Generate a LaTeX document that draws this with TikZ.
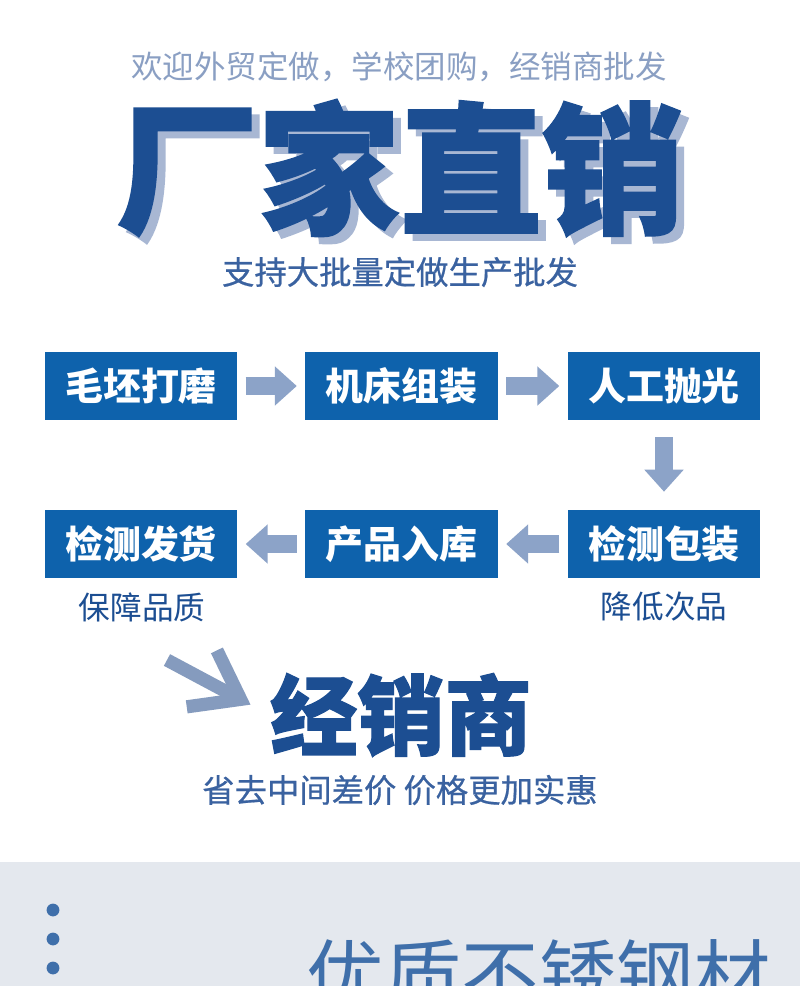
\documentclass[tikz,border=0pt]{standalone}
\usepackage{fontspec}
\setmainfont{Noto Sans CJK SC}
\newfontfamily\heavyfont{Noto Sans CJK SC}[BoldFeatures={FakeBold=1.4}]
\newfontfamily\midfont{Noto Sans CJK SC}[FakeBold=0.6]
\usetikzlibrary{arrows.meta}
\definecolor{titleblue}{HTML}{1C4E92}
\definecolor{shadowblue}{HTML}{A8B7D3}
\definecolor{paleblue}{HTML}{8A9FC3}
\definecolor{textblue}{HTML}{3A62A0}
\definecolor{boxblue}{HTML}{0E62AC}
\definecolor{arrowblue}{HTML}{8CA3C8}
\definecolor{bandgray}{HTML}{E4E8EE}
\definecolor{dotblue}{HTML}{3F6FAA}
\tikzset{
	txt/.style={inner sep=0pt},
	stepbox/.style={txt,fill=boxblue,text=white,minimum width=4.8cm,minimum height=1.7cm,
		font=\bfseries\fontsize{27}{30}\selectfont},
	flow/.style={draw=arrowblue,line width=0.45cm,-{Triangle[length=0.55cm,width=0.95cm]}}
}
\begin{document}
\begin{tikzpicture}[x=0.025cm,y=-0.025cm]
		\clip (0,0) rectangle (800,986);
		\fill[white] (0,0) rectangle (800,862);
		\fill[bandgray] (0,862) rectangle (800,986);
		\begin{scope}[every node/.style={txt}]
			\node[text=paleblue,font=\fontsize{22.4}{24}\selectfont] (welcome) at (399,67) {欢迎外贸定做，学校团购，经销商批发};
			\node[text=shadowblue,font=\heavyfont\bfseries\fontsize{101}{110}\selectfont] (titleshadow) at (408,175) {厂家直销};
			\node[text=titleblue,font=\heavyfont\bfseries\fontsize{101}{110}\selectfont] (title) at (400,168) {厂家直销};
			\node[text=textblue,font=\midfont\fontsize{23}{25}\selectfont] (support) at (400,272) {支持大批量定做生产批发};
			\node[text=titleblue,font=\fontsize{22.5}{24}\selectfont] (quality) at (142,607) {保障品质};
			\node[text=titleblue,font=\fontsize{22.5}{24}\selectfont] (defects) at (664,607) {降低次品};
			\node[text=titleblue,font=\heavyfont\bfseries\fontsize{62}{66}\selectfont] (dealer) at (401,715) {经销商};
			\node[text=textblue,font=\midfont\fontsize{23}{25}\selectfont] (saving) at (400,790) {省去中间差价 价格更加实惠};
			\node[text=dotblue,font=\fontsize{55}{60}\selectfont] (steel) at (539,975) {优质不锈钢材};
		\end{scope}
		\node[stepbox] (grind) at (141,386) {毛坯打磨};
		\node[stepbox] (machine) at (401.5,386) {机床组装};
		\node[stepbox] (polish) at (664,386) {人工抛光};
		\node[stepbox] (ship) at (141,544) {检测发货};
		\node[stepbox] (store) at (401.5,544) {产品入库};
		\node[stepbox] (pack) at (664,544) {检测包装};
		\begin{scope}[every edge/.style={flow,shorten <=0.21cm,shorten >=0.21cm}]
			\path (grind) edge (machine);
			\path (machine) edge (polish);
			\path (pack) edge (store);
			\path (store) edge (ship);
			\path (polish) edge[shorten <=0.42cm,shorten >=0.45cm] (pack);
		\end{scope}
		\coordinate (dstart) at (167,660);
		\draw[draw=arrowblue!95!black,line width=0.33cm,shorten >=0.55cm,
			-{Straight Barb[length=1.1cm,width=1.6cm]}] (dstart) -- (dealer.west);
		\foreach \y in {910,939,968}
			\fill[dotblue] (53,\y) circle (0.16cm);
	\end{tikzpicture}
\end{document}
